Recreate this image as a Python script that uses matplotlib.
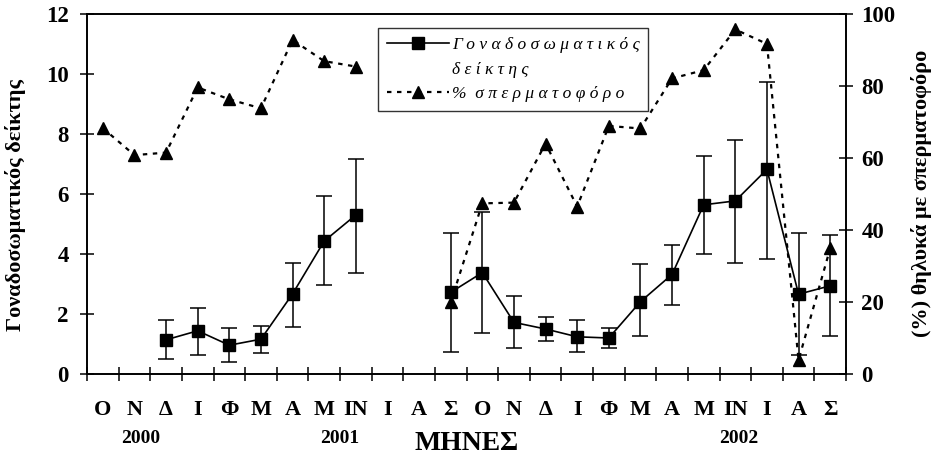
import numpy as np
import matplotlib
matplotlib.use("Agg")
import matplotlib.pyplot as plt
from matplotlib.lines import Line2D

# months along the x axis (Oct 2000 - Sep 2002)
months = ["Ο", "Ν", "Δ", "Ι", "Φ", "Μ", "Α", "Μ", "ΙΝ", "Ι", "Α", "Σ",
          "Ο", "Ν", "Δ", "Ι", "Φ", "Μ", "Α", "Μ", "ΙΝ", "Ι", "Α", "Σ"]
years = ["2000", "2001", "2002"]
year_pos = [1.7, 8.0, 20.6]

nan = np.nan
# gonadosomatic index (left axis) with error bar ends
gsi = [nan, nan, 1.14, 1.44, 0.96, 1.16, 2.67, 4.43, 5.30, nan, nan, 2.72,
       3.38, 1.72, 1.50, 1.24, 1.20, 2.41, 3.32, 5.64, 5.77, 6.82, 2.66, 2.94]
gsi_hi = [nan, nan, 1.80, 2.20, 1.54, 1.60, 3.70, 5.93, 7.16, nan, nan, 4.69,
          5.41, 2.60, 1.89, 1.79, 1.54, 3.66, 4.30, 7.28, 7.80, 9.74, 4.71, 4.63]
gsi_lo = [nan, nan, 0.51, 0.62, 0.39, 0.69, 1.56, 2.96, 3.37, nan, nan, 0.73,
          1.38, 0.87, 1.09, 0.73, 0.87, 1.26, 2.31, 4.01, 3.71, 3.83, 0.63, 1.28]
# % females with spermatophore (right axis)
sperm = [68.3, 60.8, 61.5, 79.6, 76.3, 73.8, 92.8, 86.9, 85.4, nan, nan, 19.9,
         47.4, 47.6, 64.0, 46.5, 68.9, 68.2, 82.1, 84.4, 95.7, 91.7, 3.9, 34.9]

plt.rcParams['font.family'] = ['Liberation Serif', 'DejaVu Serif']
plt.rcParams['font.weight'] = 'bold'

fig = plt.figure(figsize=(9.4, 4.57), dpi=100)
ax = fig.add_axes([87/940, 1 - 374/457, (846 - 87)/940, 360/457])
ax2 = ax.twinx()

x = np.arange(len(months)) + 0.5
g = np.array(gsi)
yerr = [g - np.array(gsi_lo), np.array(gsi_hi) - g]

ax.errorbar(x, g, yerr=yerr, color='black', lw=1.2, marker='s', ms=9,
            elinewidth=1.1, capsize=5.5, capthick=1.1)
ax2.plot(x, sperm, color='black', lw=1.6, ls=(0, (2, 2.5)), marker='^', ms=9)

ax.set_xlim(0, len(months))
ax.set_ylim(0, 12)
ax.set_yticks(np.arange(0, 13, 2))
ax2.set_ylim(0, 100)
ax2.set_yticks(np.arange(0, 101, 20))

ax.set_xticks(np.arange(0, len(months) + 1))
ax.set_xticklabels([])
ax.set_xticks(x, labels=months, minor=True)
ax.tick_params(axis='x', which='major', direction='inout', length=10, width=1.1)
ax.tick_params(axis='x', which='minor', length=0, pad=19, labelsize=16)
ax.tick_params(axis='y', direction='inout', length=10, width=1.1, labelsize=16.5, pad=8)
ax2.tick_params(axis='y', direction='inout', length=10, width=1.1, labelsize=16.5, pad=6)

for a in (ax, ax2):
    for s in a.spines.values():
        s.set_linewidth(1.2)

for yr, xp in zip(years, year_pos):
    ax.text(xp, -0.178, yr, transform=ax.get_xaxis_transform(),
            ha='center', va='center', fontsize=14, fontweight='bold')
ax.text(0.5, -0.194, "ΜΗΝΕΣ", transform=ax.transAxes, ha='center',
        va='center', fontsize=20, fontweight='bold')

ax.set_ylabel("Γοναδοσωματικός δείκτης", fontsize=16, fontweight='bold')
ax.yaxis.set_label_coords(-0.081, 0.469)
ax2.set_ylabel("(%) θηλυκά με σπερματοφόρο", fontsize=16, fontweight='bold',
               rotation=90, va='center', ha='center')
ax2.yaxis.set_label_coords(1.100, 0.503)

handles = [Line2D([], [], color='black', lw=1.2, marker='s', ms=9),
           Line2D([], [], lw=0, color='none'),
           Line2D([], [], color='black', lw=1.6, ls=(0, (2, 2.5)), marker='^', ms=9)]
labels = [" ".join("Γοναδοσωματικός"), " ".join("δείκτης"),
          "%  " + " ".join("σπερματοφόρο")]
leg = ax2.legend(handles, labels, loc='upper left',
                 bbox_to_anchor=(378/940, 1 - 28/457), bbox_transform=fig.transFigure,
                 borderaxespad=0, fancybox=False, handlelength=3.6, handletextpad=0.15,
                 labelspacing=0.5, borderpad=0.5,
                 prop={'family': 'Liberation Serif', 'style': 'italic', 'weight': 'normal', 'size': 12.5})
leg.get_frame().set_edgecolor('black')
leg.get_frame().set_linewidth(1.0)

fig.savefig("out.png", dpi=100)
